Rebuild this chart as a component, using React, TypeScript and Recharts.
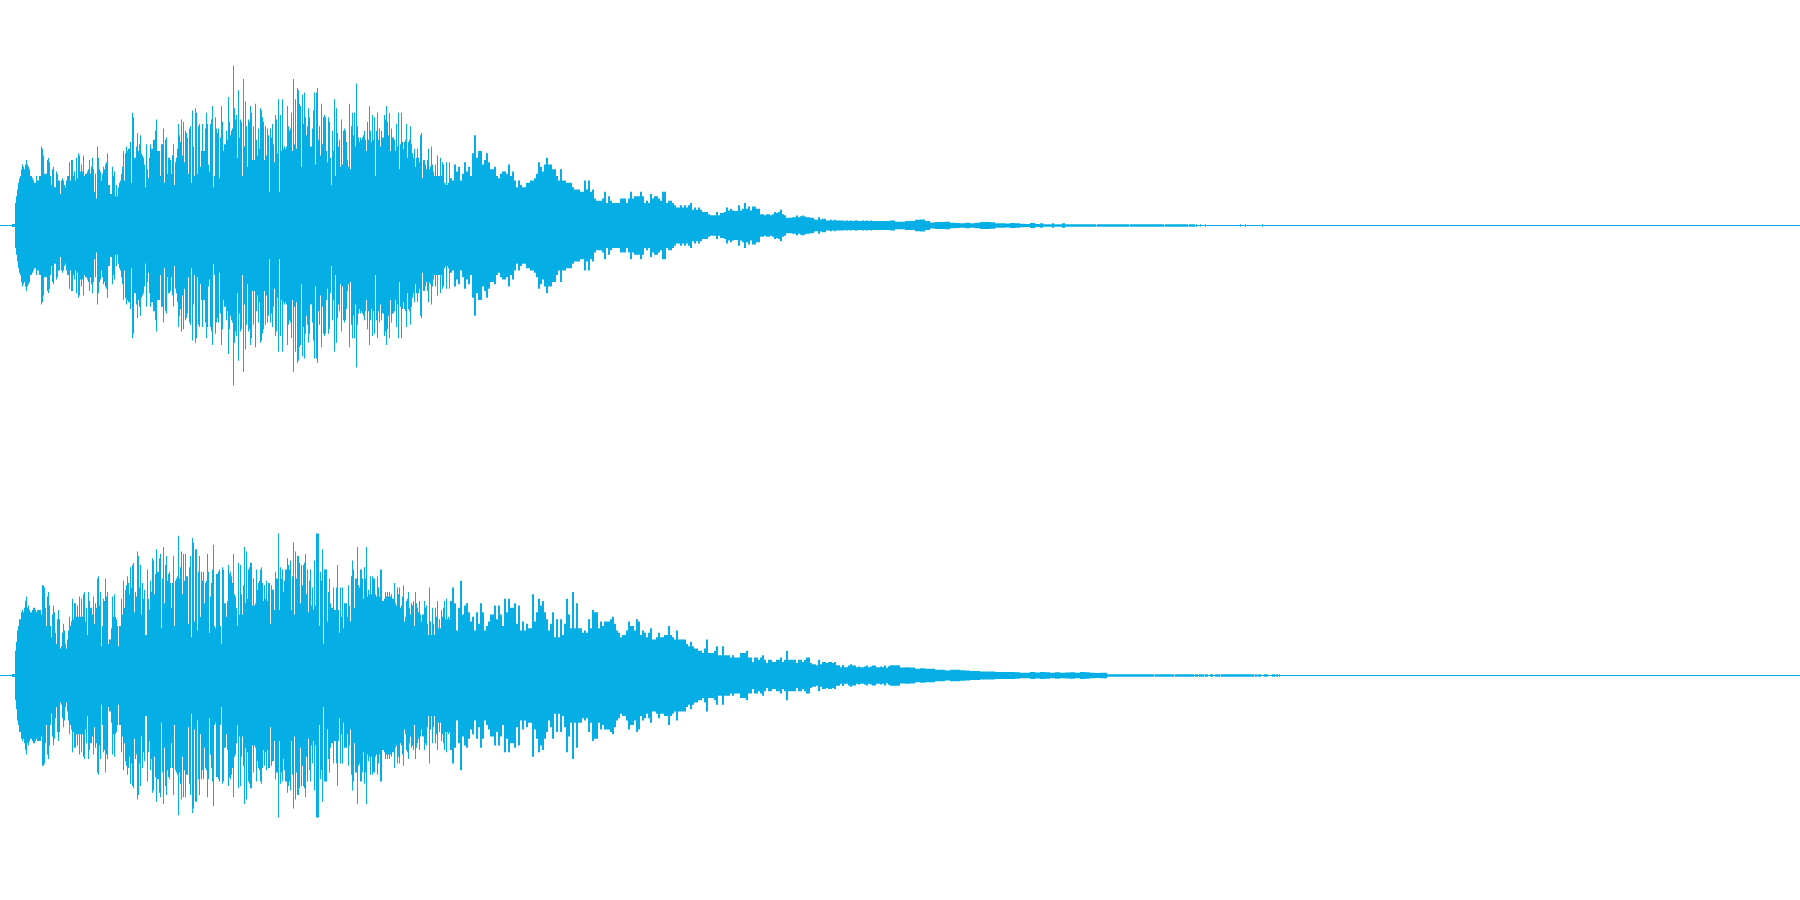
import React from "react";
import { AreaChart, Area, XAxis, YAxis, ReferenceLine } from "recharts";

const COLOR = "#06AEE6";
const WIDTH = 1800;
const HEIGHT = 451;

// Peak level (percent of full scale), channel 1
const ch1Onset = [0.7, 0.7, 0.7];
const ch1Attack = [10,13,16,19,21,22,25,27,26,25,27,29,27,26,25,22,22,21,20,19,19,22,20,20,22,22,35,34,31,23,23,23,29,30,28,22,18,25,26,17,17,24,23,20,20,14,20,21,20,18,17,20,22,22,28,20,29,29,22,24,20,30,21,32,31,24,27,24,31,22,23,23,24,25,29,23,26,30,25,15,23,12,35,30,25,24,20,23,26,25,27,28,32,18,18,14,14,26,22,24,13,18,13,17,19,20,23,26,33,20,32,35,33,34,34,37,19,50,48,30,30,35,41,33,36,40,32,31,30,27,17,36,25,21,30];
const ch1Swell = [36,34,34,38,38,42,47,33,33,33,22,36,36,43,19,38,39,23,30,30,29,23,31,36,18,28,30,34,45,40,37,47,31,46,28,42,41,39,23,43,44,19,51,35,22,52,50,23,44,45,26,33,45,33,33,43,50,45,27,24,45,47,53,17,22,48,43,41,43,21,39,53,46,33,36,36,42,38];
const ch1Crest = [57,46,40,42,43,71,52,47,49,30,60,39,47,46,22,65,35,55,44,26,47,46,53,50,29,44,29,54,38,31,43,34,52,51,48,46,29,44,31,43,40,15,43,39,45,36,28,49,47,32,56,15,49,33,56,34,35,34,35,53,44,42,43,50,33,65,36,56,34,61,60,54,53,26];
const ch1Fall = [58,45,59,48,40,44,52,48,35,35,43,51,59,27,59,61,38,44,31,54,36,48,49,48,33,28,48,46,30,18,42,33,56,22,52,41,35,38,26,47,27,42,43,42,37,29,26,54,25,44,50,40,50,35,63,44,39,37,39,38,39,40,42,38,33,46,38,53,42,37,49,38,48,22,42,50,38,43,35,42,39,39,49,47,53,46,40,50,33,43,39,39,38,33,45,35,50,25,36,50,37,34,37,38,45,30,37,38,44,36,32,30,34,26,30,34,30,28,40,41,21,29,29,27,25,29,34,25,26,35,27,24,22,27,22,31,22,22,30,22,28,27,19,18,28,18,19,28];
const ch1Decay = [21,20,27,24,26,20,23,28,24,26,22,32,40,30,33,33,27,29,32,28,25,25,26,22,21,23,24,24,23,27,22,24,20,17,20,18,17,17,19,19,20,20,21,23,28,26,24,27,30,27,27,25,25,22,20,25,20,20,19,19,19,17,16,16,16,15,15,20,16,20,15,16,12,11,11,11,12,15,10,13,11,10,10,10,10,12,12,12,10,12,15,12,13,13,13,15,13,10,11,10,14,12,13,13,12,11,15,15,10,11,11,10,9,8,8,9,8,9,8,9,10,7,8,7,8,7,6,6,6,5,4.5,4.5,4.5,6,4.5,5.5,5.5,6,8,6.7,7.4,6.7,6.4,6.4,9,6.7,7.4,10,7.4,8.4,6.7,8.4,8.4,7.4,7.4,5,5,4.5,5,5,4.5,5,6,5.5,6,7,5,4.5,3.4,3.4,3.4,3.7,3.7,4.4,3.7,4.1,4.4,4,3.7,3.7,3.4,3.4,2.7,2.5,3.7,2.7,3,3,2.2,2.2,2.5,2.2,2.5,2.2,2.2,2.2,2.2,2,2.2,2,2.2,2,2.2,2.2,2,2,2.2,2,2.2,2,2.2,2];
const ch1Tail = [2.2,1.7,1.7,2,2,2.5,2.7,2,1.3,1.5,1.6,1.7,1.2,1.1,1,1.2,1,1.2,1.5,1.5,1.4,1,1,0.9,1.1,1,0.8,0.7,1.1,0.7];
const ch1BandX = [1040,1043,1052,1054,1062,1065,1096,1097,1129,1130,1164,1165,1188,1189,1195,1196,1197,1200,1201,1205,1206,1240,1241,1245,1246,1262,1263,1800];
const ch1BandLevel = [1,0.6,1,0.6,1,0.6,0.25,0.6,0.25,0.6,0.25,0.6,0.25,0.6,0.25,0.6,0.25,0.6,0.25,0.6,0.25,0.6,0.25,0.6,0.25,0.6,0.25,0];

// Channel 2
const ch2Onset = [0.7, 0.7, 0.7];
const ch2Attack = [11,15,20,22,25,25,28,29,28,30,33,35,30,31,29,28,28,29,30,30,29,28,29,29,29,29,27,40,40,39,30,22,35,37,31,22,17,27,31,28,19,14,25,29,25,12,13,19,23,20,14,12,16,20,26,22,24,34,25,32,32,26,31,26,35,26,34,26,36,37,24,30,18,37,33,30,30,27,35,23,32,30,43,44,31,37,13,22,34,33,43,35,37,14,16,16,21,35,26,36,26,25,22,13,22,22,34,27,42,30,38,40,44,41,36,48,39,49,50,28,37,35,55,53,39,49,27,41,34,38,18,18,47,34,29];
const ch2Swell = [42,37,52,51,36,45,56,46,46,52,54,21,43,57,32,49,53,42,45,46,41,30,41,53,22,42,43,44,62,43,48,55,36,54,42,54,44,44,23,48,53,17,61,59,24,56,56,20,46,53,26,46,42,46,32,41,42,54,46,19,35,41,47,58,22,21,45,45,46,47,22,14,48,47,32,32,26,33,49,45,46,44,41,54,36,35,30,22,50,27,49,36,27,40,57,32,55,34,47,48,50,50,31,43,31,32,47,38,41,42,47,48,41];
const ch2Crest = [33,40,34,42,33,41,41,23,40,38,38,29,46,43,43,63,29,48,43,47,37,42,47,47,52,49,47,51,29,44,59,27,55,43,53,53,50,32,49,40,49,50,54,36,47,28,42,47,31,39,29,51,31,63,63,63,22,46,42,56,14,47,47,47,24,37,43,32,30,30,39,29,29,39,49,29,19,39,26,39,21,32,32,32,26,40,31,24,44,51,47,30,43,43,57,40,39,47,47,43,34,48,43,57,35,38,36,44,36,44,43,43,36,35,44,39,35,47,47,33,33,34,37,35,37,35,37,35,36,34,34,41,32,31,39,36,39,30,31,35,40,24,26,33,34,37,30,27,32,31,33,22,37,32,30,28,33,27,24,27,27,33,30,31,23,18,39,24,18,30,23,18,30,26,33,21,25,21,29,26,30,33,25,34,25,26,25];
const ch2Decay = [33,39,32,20,30,42,27,31,32,28,24,26,20,28,23,32,28,20,22,24,27,27,31,25,31,27,22,34,28,34,30,30,32,23,31,20,24,20,23,21,21,36,24,28,34,31,33,28,25,20,23,28,17,25,17,25,18,23,34,27,21,37,21,32,21,21,19,20,19,25,21,29,28,28,21,24,22,24,24,24,25,26,23,20,19,17,18,18,20,24,22,22,20,25,24,18,20,19,17,19,21,16,16,17,19,17,17,18,18,22,18,17,16,20,16,16,16,16,14,13,15,13,12,12,11,11,10,12,16,10,10,10,11,13,9,9,13,9,9,9,8,9,8,8,8,10,10,10,11,8,8,6,8,8,7,8,9,7,5.5,7,7,6,6,7,7,8,6,7,11,7,7,7,7,5.5,7,7,6,7,8,8,5.5,5,5,4.5,7,5,6,6,5.5,6,6,5.5,6,4.5,4.5,3.7,4.7,3.7,3.7,4.4,5,4.4,4.4,3.7,4,3.7,3.7,4,4.4,3.7,4,4.4,4.4,3.7,3.7,4,3.7,4.4,3.4,4.1];
const ch2Tail = [4.5,4.6,3.5,3.7,3.5,3,3.2,3,3,2.6,2.6,2.2,2.6,2.6,2.3,2.2,2,2,1.8,1.8,1.8,1.6,1.6,1.6,1.5,1.4,1.2,1.2,1.5,1.3,1.5,1.4,1.2,1.4,1.2,1.3,1.4,1.2,1.6,1.4,1.2,1.1,1.2,1.2];
const ch2BandX = [1107,1154,1155,1174,1175,1194,1195,1198,1199,1204,1205,1208,1210,1213,1215,1220,1221,1254,1255,1257,1258,1261,1264,1268,1272,1275,1276,1278,1279,1280,1800];
const ch2BandLevel = [0.6,0.25,0.6,0.25,0.6,0.25,0.6,0.25,0.6,0.25,0.6,0.25,0.6,0.25,0.6,0.25,0.6,0.25,0.6,0.25,0.6,0.25,0.6,0.25,0.6,0.25,0.6,0.25,0.6,0.25,0];

type Row = { x: number; level: number };

const run = (start: number, step: number, levels: number[]): Row[] =>
  levels.map((level, i) => ({ x: start + i * step, level }));
const listed = (xs: number[], levels: number[]): Row[] =>
  xs.map((x, i) => ({ x, level: levels[i] }));

const ch1Rows: Row[] = [
  { x: 0, level: 0.25 },
  ...run(12, 1, ch1Onset),
  ...run(15, 1, ch1Attack),
  ...run(150, 1, ch1Swell),
  ...run(228, 1, ch1Crest),
  ...run(302, 1, ch1Fall),
  ...run(450, 2, ch1Decay),
  ...run(890, 5, ch1Tail),
  ...listed(ch1BandX, ch1BandLevel),
];

const ch2Rows: Row[] = [
  { x: 0, level: 0.25 },
  ...run(12, 1, ch2Onset),
  ...run(15, 1, ch2Attack),
  ...run(150, 1, ch2Swell),
  ...run(263, 1, ch2Crest),
  ...run(450, 2, ch2Decay),
  ...run(890, 5, ch2Tail),
  ...listed(ch2BandX, ch2BandLevel),
];

const range = (d: Row) => [-d.level, d.level];

function Channel({ rows, top }: { rows: Row[]; top: number }) {
  return (
    <div style={{ position: "absolute", left: 0, top, width: WIDTH, height: HEIGHT }}>
      <AreaChart width={WIDTH} height={HEIGHT} data={rows} margin={{ top: 0, right: 0, bottom: 0, left: 0 }}>
        <XAxis type="number" dataKey="x" domain={[0, WIDTH]} hide allowDataOverflow />
        <YAxis type="number" domain={[-100, 100]} hide allowDataOverflow />
        <Area
          type="stepAfter"
          dataKey={range}
          stroke="none"
          fill={COLOR}
          fillOpacity={1}
          dot={false}
          activeDot={false}
          isAnimationActive={false}
        />
        <ReferenceLine y={0} stroke={COLOR} strokeWidth={1} />
      </AreaChart>
    </div>
  );
}

export default function App() {
  return (
    <div style={{ position: "absolute", left: 0, top: 0, width: WIDTH, height: 900, background: "#fff", overflow: "hidden" }}>
      <Channel rows={ch1Rows} top={0} />
      <Channel rows={ch2Rows} top={450} />
    </div>
  );
}
